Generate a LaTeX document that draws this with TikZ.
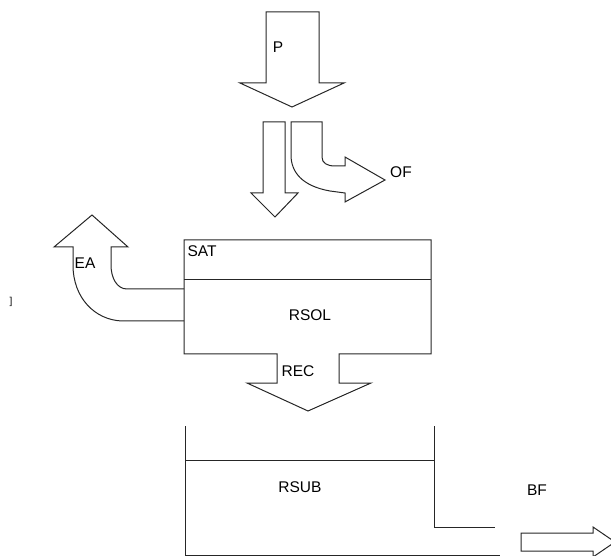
\documentclass[tikz,border=0pt]{standalone}
\usepackage{fontspec}
\setmainfont{Liberation Sans}

\begin{document}
\begin{tikzpicture}[x=1pt,y=-1pt,
    line width=1pt,
    block/.style={draw=black!85},
    lbl/.style={inner sep=0pt,font=\fontsize{15.5}{18}\selectfont}]
%Fix the frame of the picture first, anything past it is cut off
\useasboundingbox (0,0) rectangle (611,556);
\clip (0,0) rectangle (611,556);
% the big arrow coming in from the top
\draw[block] (266,12) -- (319,12) -- (319,83) -- (344,83) -- (292,107)
    -- (240,83) -- (266,83) -- cycle;
% it splits: one part goes down into the box,
% the other one bends away to the right
\draw[block] (263,122) -- (285,122) -- (285,193) -- (298,193) -- (275,217)
    -- (251,193) -- (263,193) -- cycle;
\draw[block] (291,122) -- (322,122) -- (322,157)
    .. controls (322,163) and (327,166) .. (335,166) -- (345,166)
    -- (345,157) -- (385,180) -- (345,202) -- (345,193) -- (330,191)
    .. controls (302,186) and (291,172) .. (291,155) -- cycle;
% the upper store with its thin top layer,
% the bottom edge is opened by the arrow leaving it
\draw[block] (277,354) -- (184,354) -- (184,240) -- (431,240) -- (431,354)
    -- (339,354) -- (339,383) -- (371,383) -- (308,411) -- (247,383)
    -- (277,383) -- cycle;
\draw[block] (184,280) -- (431,280);
% arrow leaving the store on the left and going up
\draw[block] (184,289) -- (127,289) .. controls (117,289) and (111,278) .. (111,265)
    -- (111,247) -- (128,247) -- (92,215) -- (54,247) -- (73,247) -- (73,265)
    .. controls (73,298) and (95,320) .. (122,321) -- (184,321);
% the lower store, open at the top
\draw[block] (185,426) -- (185,555) -- (500,555);
\draw[block] (434,426) -- (434,527) -- (495,527);
\draw[block] (185,460) -- (434,460);
% arrow going out on the right
\draw[block] (521,533) -- (593,533) -- (593,527) -- (615,542) -- (593,557)
    -- (593,551) -- (521,551) -- cycle;
% labels
\node[lbl] (p) at (278,47) {P};
\node[lbl] (of) at (401,172) {OF};
\node[lbl] (sat) at (202,251) {SAT};
\node[lbl] (ea) at (85,263) {EA};
\node[lbl] (rsol) at (310,315) {RSOL};
\node[lbl] (rec) at (298,371) {REC};
\node[lbl] (rsub) at (300,487) {RSUB};
\node[lbl] (bf) at (537,490) {BF};
\node[inner sep=0pt,font=\fontsize{10}{12}\selectfont] (mark) at (11,302) {]};
\end{tikzpicture}
\end{document}
